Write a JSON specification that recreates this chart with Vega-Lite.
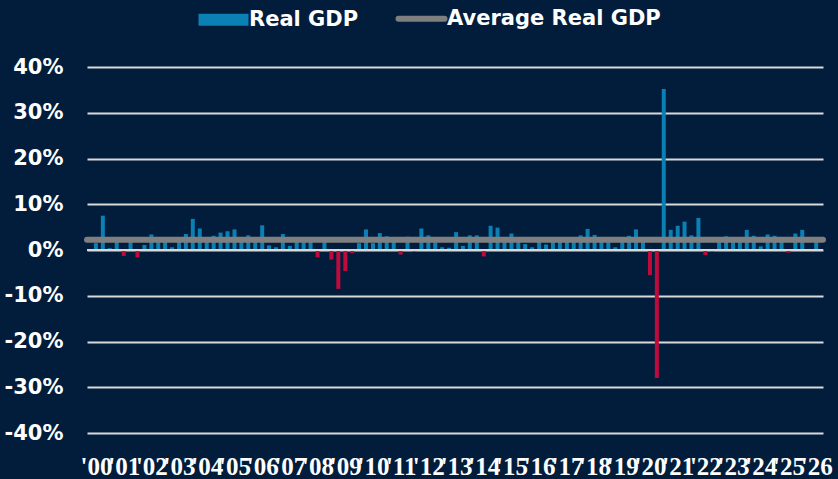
{
  "$schema": "https://vega.github.io/schema/vega-lite/v6.json",
  "width": 736,
  "height": 366,
  "autosize": "none",
  "padding": {"left": 87, "top": 67, "right": 15, "bottom": 46},
  "background": "#021d3b",
  "config": {
    "view": {"stroke": null},
    "font": "DejaVu Sans"
  },
  "data": {
    "values": [
      {"date": "2000-01-01", "gdp": 1.5}, {"date": "2000-04-01", "gdp": 7.5}, {"date": "2000-07-01", "gdp": 0.4}, {"date": "2000-10-01", "gdp": 2.4},
      {"date": "2001-01-01", "gdp": -1.3}, {"date": "2001-04-01", "gdp": 2.5}, {"date": "2001-07-01", "gdp": -1.6}, {"date": "2001-10-01", "gdp": 1.1},
      {"date": "2002-01-01", "gdp": 3.4}, {"date": "2002-04-01", "gdp": 2.4}, {"date": "2002-07-01", "gdp": 1.8}, {"date": "2002-10-01", "gdp": 0.6},
      {"date": "2003-01-01", "gdp": 2.2}, {"date": "2003-04-01", "gdp": 3.5}, {"date": "2003-07-01", "gdp": 6.8}, {"date": "2003-10-01", "gdp": 4.7},
      {"date": "2004-01-01", "gdp": 2.2}, {"date": "2004-04-01", "gdp": 3.1}, {"date": "2004-07-01", "gdp": 3.8}, {"date": "2004-10-01", "gdp": 4.1},
      {"date": "2005-01-01", "gdp": 4.5}, {"date": "2005-04-01", "gdp": 1.9}, {"date": "2005-07-01", "gdp": 3.2}, {"date": "2005-10-01", "gdp": 2.3},
      {"date": "2006-01-01", "gdp": 5.4}, {"date": "2006-04-01", "gdp": 1.0}, {"date": "2006-07-01", "gdp": 0.6}, {"date": "2006-10-01", "gdp": 3.5},
      {"date": "2007-01-01", "gdp": 0.9}, {"date": "2007-04-01", "gdp": 2.3}, {"date": "2007-07-01", "gdp": 2.2}, {"date": "2007-10-01", "gdp": 2.5},
      {"date": "2008-01-01", "gdp": -1.6}, {"date": "2008-04-01", "gdp": 2.3}, {"date": "2008-07-01", "gdp": -2.1}, {"date": "2008-10-01", "gdp": -8.5},
      {"date": "2009-01-01", "gdp": -4.6}, {"date": "2009-04-01", "gdp": -0.7}, {"date": "2009-07-01", "gdp": 1.5}, {"date": "2009-10-01", "gdp": 4.5},
      {"date": "2010-01-01", "gdp": 1.5}, {"date": "2010-04-01", "gdp": 3.7}, {"date": "2010-07-01", "gdp": 3.0}, {"date": "2010-10-01", "gdp": 2.0},
      {"date": "2011-01-01", "gdp": -1.0}, {"date": "2011-04-01", "gdp": 2.9}, {"date": "2011-07-01", "gdp": -0.3}, {"date": "2011-10-01", "gdp": 4.7},
      {"date": "2012-01-01", "gdp": 3.2}, {"date": "2012-04-01", "gdp": 1.7}, {"date": "2012-07-01", "gdp": 0.6}, {"date": "2012-10-01", "gdp": 0.5},
      {"date": "2013-01-01", "gdp": 3.9}, {"date": "2013-04-01", "gdp": 0.9}, {"date": "2013-07-01", "gdp": 3.2}, {"date": "2013-10-01", "gdp": 3.2},
      {"date": "2014-01-01", "gdp": -1.4}, {"date": "2014-04-01", "gdp": 5.3}, {"date": "2014-07-01", "gdp": 4.9}, {"date": "2014-10-01", "gdp": 1.9},
      {"date": "2015-01-01", "gdp": 3.6}, {"date": "2015-04-01", "gdp": 2.3}, {"date": "2015-07-01", "gdp": 1.3}, {"date": "2015-10-01", "gdp": 0.6},
      {"date": "2016-01-01", "gdp": 2.4}, {"date": "2016-04-01", "gdp": 1.2}, {"date": "2016-07-01", "gdp": 2.7}, {"date": "2016-10-01", "gdp": 2.0},
      {"date": "2017-01-01", "gdp": 2.0}, {"date": "2017-04-01", "gdp": 2.3}, {"date": "2017-07-01", "gdp": 3.2}, {"date": "2017-10-01", "gdp": 4.6},
      {"date": "2018-01-01", "gdp": 3.3}, {"date": "2018-04-01", "gdp": 2.7}, {"date": "2018-07-01", "gdp": 2.4}, {"date": "2018-10-01", "gdp": 0.6},
      {"date": "2019-01-01", "gdp": 2.2}, {"date": "2019-04-01", "gdp": 3.1}, {"date": "2019-07-01", "gdp": 4.5}, {"date": "2019-10-01", "gdp": 2.8},
      {"date": "2020-01-01", "gdp": -5.5}, {"date": "2020-04-01", "gdp": -28.0}, {"date": "2020-07-01", "gdp": 35.2}, {"date": "2020-10-01", "gdp": 4.4},
      {"date": "2021-01-01", "gdp": 5.3}, {"date": "2021-04-01", "gdp": 6.2}, {"date": "2021-07-01", "gdp": 3.2}, {"date": "2021-10-01", "gdp": 7.0},
      {"date": "2022-01-01", "gdp": -1.1}, {"date": "2022-04-01", "gdp": -0.3}, {"date": "2022-07-01", "gdp": 2.8}, {"date": "2022-10-01", "gdp": 3.0},
      {"date": "2023-01-01", "gdp": 2.8}, {"date": "2023-04-01", "gdp": 2.4}, {"date": "2023-07-01", "gdp": 4.4}, {"date": "2023-10-01", "gdp": 3.1},
      {"date": "2024-01-01", "gdp": 0.8}, {"date": "2024-04-01", "gdp": 3.4}, {"date": "2024-07-01", "gdp": 3.1}, {"date": "2024-10-01", "gdp": 2.4},
      {"date": "2025-01-01", "gdp": -0.6}, {"date": "2025-04-01", "gdp": 3.6}, {"date": "2025-07-01", "gdp": 4.4},
      {"date": "2026-01-01", "gdp": 1.8}
    ]
  },
  "encoding": {
    "x": {
      "field": "date",
      "type": "temporal",
      "scale": {
        "type": "utc",
        "domain": [
          {"year": 1999, "month": 11, "date": 10, "utc": true},
          {"year": 2026, "month": 1, "date": 25, "utc": true}
        ]
      },
      "axis": {
        "title": null,
        "format": "'%y",
        "tickCount": {"interval": "year", "step": 1},
        "grid": false,
        "domain": false,
        "ticks": false,
        "labelColor": "#ffffff",
        "labelFont": "Liberation Sans Narrow",
        "labelFontWeight": "bold",
        "labelFontSize": 25,
        "labelPadding": 21,
        "labelBaseline": "top",
        "labelOverlap": false,
        "labelBound": false,
        "labelFlush": false
      }
    }
  },
  "layer": [
    {
      "mark": {"type": "bar", "size": 4},
      "encoding": {
        "y": {
          "field": "gdp",
          "type": "quantitative",
          "scale": {"domain": [-40, 40], "nice": false},
          "axis": {
            "title": null,
            "values": [-40, -30, -20, -10, 0, 10, 20, 30, 40],
            "labelExpr": "datum.value + '%'",
            "domain": false,
            "ticks": false,
            "gridColor": "#d9d9d9",
            "gridWidth": 2,
            "labelColor": "#ffffff",
            "labelFont": "DejaVu Sans",
            "labelFontWeight": "bold",
            "labelFontSize": 21,
            "labelPadding": 24
          }
        },
        "color": {
          "condition": {"test": "datum.gdp < 0", "value": "#c00a3c"},
          "datum": "Real GDP",
          "scale": {
            "domain": ["Real GDP", "Average Real GDP"],
            "range": ["#0a80b4", "#7f7f7f"]
          },
          "legend": {
            "title": null,
            "orient": "none",
            "direction": "horizontal",
            "legendX": 126,
            "legendY": -59,
            "symbolSize": 2500,
            "labelOffset": 15,
            "columnPadding": 27,
            "labelLimit": 400,
            "labelColor": "#ffffff",
            "labelFont": "DejaVu Sans",
            "labelFontWeight": "bold",
            "labelFontSize": 21,
            "encode": {
              "symbols": {
                "update": {
                  "size": {"value": 2500},
                  "shape": {"signal": "datum.value === 'Real GDP' ? 'M-1,-0.24H1V0.24H-1Z' : 'M-0.92,0H0.92'"},
                  "fill": {"signal": "datum.value === 'Real GDP' ? '#0083b8' : 'transparent'"},
                  "stroke": {"signal": "datum.value === 'Real GDP' ? 'transparent' : '#7f7f7f'"},
                  "strokeWidth": {"signal": "datum.value === 'Real GDP' ? 0 : 6"},
                  "strokeCap": {"value": "round"},
                  "opacity": {"value": 1},
                  "fillOpacity": {"value": 1},
                  "strokeOpacity": {"value": 1}
                }
              }
            }
          }
        }
      }
    },
    {
      "mark": {"type": "rule", "color": "#d9d9d9", "strokeWidth": 2},
      "encoding": {"y": {"datum": 0}, "x": null}
    },
    {
      "mark": {"type": "rule", "strokeWidth": 6, "strokeCap": "round"},
      "encoding": {
        "y": {"aggregate": "mean", "field": "gdp", "type": "quantitative"},
        "x": null,
        "color": {"datum": "Average Real GDP"}
      }
    }
  ]
}
